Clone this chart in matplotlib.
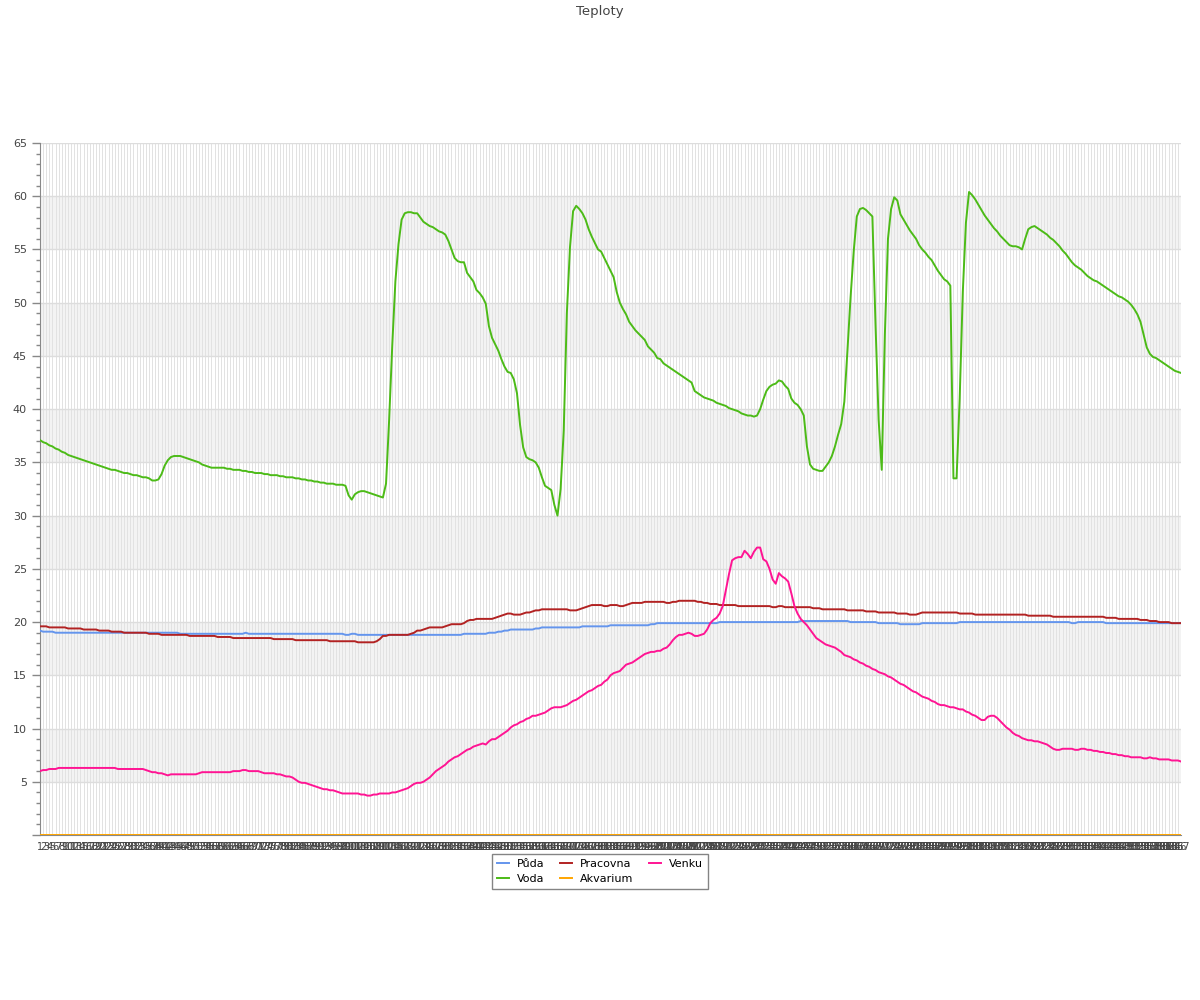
import matplotlib
matplotlib.use("Agg")
import matplotlib.pyplot as plt
from matplotlib.ticker import MultipleLocator

plt.rcParams['font.family'] = ['DejaVu Sans']

title = "Teploty"
labels = [str(i) for i in range(1, 368)]

puda = [
    19.2, 19.1, 19.1, 19.1, 19.1, 19.0, 19.0, 19.0, 19.0, 19.0,
    19.0, 19.0, 19.0, 19.0, 19.0, 19.0, 19.0, 19.0, 19.0, 19.0,
    19.0, 19.0, 19.0, 19.0, 19.0, 19.0, 19.0, 19.0, 19.0, 19.0,
    19.0, 19.0, 19.0, 19.0, 19.0, 19.0, 19.0, 19.0, 19.0, 19.0,
    19.0, 19.0, 19.0, 19.0, 19.0, 18.9, 18.9, 18.9, 18.9, 18.9,
    18.9, 18.9, 18.9, 18.9, 18.9, 18.9, 18.9, 18.9, 18.9, 18.9,
    18.9, 18.9, 18.9, 18.9, 18.9, 18.9, 19.0, 18.9, 18.9, 18.9,
    18.9, 18.9, 18.9, 18.9, 18.9, 18.9, 18.9, 18.9, 18.9, 18.9,
    18.9, 18.9, 18.9, 18.9, 18.9, 18.9, 18.9, 18.9, 18.9, 18.9,
    18.9, 18.9, 18.9, 18.9, 18.9, 18.9, 18.9, 18.9, 18.8, 18.8,
    18.9, 18.9, 18.8, 18.8, 18.8, 18.8, 18.8, 18.8, 18.8, 18.8,
    18.8, 18.8, 18.8, 18.8, 18.8, 18.8, 18.8, 18.8, 18.8, 18.8,
    18.8, 18.8, 18.8, 18.8, 18.8, 18.8, 18.8, 18.8, 18.8, 18.8,
    18.8, 18.8, 18.8, 18.8, 18.8, 18.8, 18.9, 18.9, 18.9, 18.9,
    18.9, 18.9, 18.9, 18.9, 19.0, 19.0, 19.0, 19.1, 19.1, 19.2,
    19.2, 19.3, 19.3, 19.3, 19.3, 19.3, 19.3, 19.3, 19.3, 19.4,
    19.4, 19.5, 19.5, 19.5, 19.5, 19.5, 19.5, 19.5, 19.5, 19.5,
    19.5, 19.5, 19.5, 19.5, 19.6, 19.6, 19.6, 19.6, 19.6, 19.6,
    19.6, 19.6, 19.6, 19.7, 19.7, 19.7, 19.7, 19.7, 19.7, 19.7,
    19.7, 19.7, 19.7, 19.7, 19.7, 19.7, 19.8, 19.8, 19.9, 19.9,
    19.9, 19.9, 19.9, 19.9, 19.9, 19.9, 19.9, 19.9, 19.9, 19.9,
    19.9, 19.9, 19.9, 19.9, 19.9, 19.9, 19.9, 19.9, 20.0, 20.0,
    20.0, 20.0, 20.0, 20.0, 20.0, 20.0, 20.0, 20.0, 20.0, 20.0,
    20.0, 20.0, 20.0, 20.0, 20.0, 20.0, 20.0, 20.0, 20.0, 20.0,
    20.0, 20.0, 20.0, 20.0, 20.1, 20.1, 20.1, 20.1, 20.1, 20.1,
    20.1, 20.1, 20.1, 20.1, 20.1, 20.1, 20.1, 20.1, 20.1, 20.1,
    20.0, 20.0, 20.0, 20.0, 20.0, 20.0, 20.0, 20.0, 20.0, 19.9,
    19.9, 19.9, 19.9, 19.9, 19.9, 19.9, 19.8, 19.8, 19.8, 19.8,
    19.8, 19.8, 19.8, 19.9, 19.9, 19.9, 19.9, 19.9, 19.9, 19.9,
    19.9, 19.9, 19.9, 19.9, 19.9, 20.0, 20.0, 20.0, 20.0, 20.0,
    20.0, 20.0, 20.0, 20.0, 20.0, 20.0, 20.0, 20.0, 20.0, 20.0,
    20.0, 20.0, 20.0, 20.0, 20.0, 20.0, 20.0, 20.0, 20.0, 20.0,
    20.0, 20.0, 20.0, 20.0, 20.0, 20.0, 20.0, 20.0, 20.0, 20.0,
    20.0, 19.9, 19.9, 20.0, 20.0, 20.0, 20.0, 20.0, 20.0, 20.0,
    20.0, 20.0, 19.9, 19.9, 19.9, 19.9, 19.9, 19.9, 19.9, 19.9,
    19.9, 19.9, 19.9, 19.9, 19.9, 19.9, 19.9, 19.9, 19.9, 19.9,
    19.9, 19.9, 19.9, 19.9, 19.9, 19.9, 19.9,
]

voda = [
    37.1, 36.9, 36.8, 36.6, 36.5, 36.3, 36.2, 36.0, 35.9, 35.7,
    35.6, 35.5, 35.4, 35.3, 35.2, 35.1, 35.0, 34.9, 34.8, 34.7,
    34.6, 34.5, 34.4, 34.3, 34.3, 34.2, 34.1, 34.0, 34.0, 33.9,
    33.8, 33.8, 33.7, 33.6, 33.6, 33.5, 33.3, 33.3, 33.4, 33.9,
    34.7, 35.2, 35.5, 35.6, 35.6, 35.6, 35.5, 35.4, 35.3, 35.2,
    35.1, 35.0, 34.8, 34.7, 34.6, 34.5, 34.5, 34.5, 34.5, 34.5,
    34.4, 34.4, 34.3, 34.3, 34.3, 34.2, 34.2, 34.1, 34.1, 34.0,
    34.0, 34.0, 33.9, 33.9, 33.8, 33.8, 33.8, 33.7, 33.7, 33.6,
    33.6, 33.6, 33.5, 33.5, 33.4, 33.4, 33.3, 33.3, 33.2, 33.2,
    33.1, 33.1, 33.0, 33.0, 33.0, 32.9, 32.9, 32.9, 32.8, 31.9,
    31.5, 32.0, 32.2, 32.3, 32.3, 32.2, 32.1, 32.0, 31.9, 31.8,
    31.7, 33.0, 39.0, 46.0, 52.0, 55.5, 57.8, 58.4, 58.5, 58.5,
    58.4, 58.4, 58.0, 57.6, 57.4, 57.2, 57.1, 56.9, 56.7, 56.6,
    56.4, 55.8, 55.0, 54.2, 53.9, 53.8, 53.8, 52.8, 52.4, 52.0,
    51.2, 50.9, 50.5, 49.9, 47.8, 46.7, 46.1, 45.5, 44.7, 44.0,
    43.5, 43.4, 42.8, 41.5, 38.5, 36.4, 35.5, 35.3, 35.2, 35.0,
    34.5, 33.6, 32.8, 32.6, 32.4, 31.0, 30.0, 32.5, 38.0, 49.0,
    55.2, 58.6, 59.1, 58.8, 58.4, 57.8, 56.9, 56.2, 55.6, 55.0,
    54.8, 54.2, 53.6, 53.0, 52.4, 51.0, 50.0, 49.4, 48.9, 48.2,
    47.8, 47.4, 47.1, 46.8, 46.5, 45.9, 45.6, 45.3, 44.8, 44.7,
    44.3, 44.1, 43.9, 43.7, 43.5, 43.3, 43.1, 42.9, 42.7, 42.5,
    41.7, 41.5, 41.3, 41.1, 41.0, 40.9, 40.8, 40.6, 40.5, 40.4,
    40.3, 40.1, 40.0, 39.9, 39.8, 39.6, 39.5, 39.4, 39.4, 39.3,
    39.4, 40.0, 40.9, 41.7, 42.1, 42.3, 42.4, 42.7, 42.6, 42.2,
    41.9, 41.0, 40.6, 40.4, 40.0, 39.4, 36.5, 34.8, 34.4, 34.3,
    34.2, 34.2, 34.6, 35.0, 35.6, 36.5, 37.6, 38.6, 40.7, 45.5,
    50.5, 54.8, 58.1, 58.8, 58.9, 58.7, 58.4, 58.1, 48.0, 39.0,
    34.3, 47.0, 56.0, 58.8, 59.9, 59.6, 58.3, 57.8, 57.3, 56.8,
    56.4, 56.0, 55.4, 55.0, 54.7, 54.3, 54.0, 53.5, 53.0, 52.6,
    52.2, 52.0, 51.6, 33.5, 33.5, 41.0, 51.0, 57.5, 60.4, 60.1,
    59.7, 59.2, 58.7, 58.2, 57.8, 57.4, 57.0, 56.7, 56.3, 56.0,
    55.7, 55.4, 55.3, 55.3, 55.2, 55.0, 56.0, 56.9, 57.1, 57.2,
    57.0, 56.8, 56.6, 56.4, 56.1, 55.9, 55.6, 55.3, 54.9, 54.6,
    54.2, 53.8, 53.5, 53.3, 53.1, 52.8, 52.5, 52.3, 52.1, 52.0,
    51.8, 51.6, 51.4, 51.2, 51.0, 50.8, 50.6, 50.5, 50.3, 50.1,
    49.8, 49.4, 48.9, 48.2, 47.0, 45.8, 45.2, 44.9, 44.8, 44.6,
    44.4, 44.2, 44.0, 43.8, 43.6, 43.5, 43.4,
]

pracovna = [
    19.6, 19.6, 19.6, 19.5, 19.5, 19.5, 19.5, 19.5, 19.5, 19.4,
    19.4, 19.4, 19.4, 19.4, 19.3, 19.3, 19.3, 19.3, 19.3, 19.2,
    19.2, 19.2, 19.2, 19.1, 19.1, 19.1, 19.1, 19.0, 19.0, 19.0,
    19.0, 19.0, 19.0, 19.0, 19.0, 18.9, 18.9, 18.9, 18.9, 18.8,
    18.8, 18.8, 18.8, 18.8, 18.8, 18.8, 18.8, 18.8, 18.7, 18.7,
    18.7, 18.7, 18.7, 18.7, 18.7, 18.7, 18.7, 18.6, 18.6, 18.6,
    18.6, 18.6, 18.5, 18.5, 18.5, 18.5, 18.5, 18.5, 18.5, 18.5,
    18.5, 18.5, 18.5, 18.5, 18.5, 18.4, 18.4, 18.4, 18.4, 18.4,
    18.4, 18.4, 18.3, 18.3, 18.3, 18.3, 18.3, 18.3, 18.3, 18.3,
    18.3, 18.3, 18.3, 18.2, 18.2, 18.2, 18.2, 18.2, 18.2, 18.2,
    18.2, 18.2, 18.1, 18.1, 18.1, 18.1, 18.1, 18.1, 18.2, 18.4,
    18.7, 18.7, 18.8, 18.8, 18.8, 18.8, 18.8, 18.8, 18.8, 18.9,
    19.0, 19.2, 19.2, 19.3, 19.4, 19.5, 19.5, 19.5, 19.5, 19.5,
    19.6, 19.7, 19.8, 19.8, 19.8, 19.8, 19.9, 20.1, 20.2, 20.2,
    20.3, 20.3, 20.3, 20.3, 20.3, 20.3, 20.4, 20.5, 20.6, 20.7,
    20.8, 20.8, 20.7, 20.7, 20.7, 20.8, 20.9, 20.9, 21.0, 21.1,
    21.1, 21.2, 21.2, 21.2, 21.2, 21.2, 21.2, 21.2, 21.2, 21.2,
    21.1, 21.1, 21.1, 21.2, 21.3, 21.4, 21.5, 21.6, 21.6, 21.6,
    21.6, 21.5, 21.5, 21.6, 21.6, 21.6, 21.5, 21.5, 21.6, 21.7,
    21.8, 21.8, 21.8, 21.8, 21.9, 21.9, 21.9, 21.9, 21.9, 21.9,
    21.9, 21.8, 21.8, 21.9, 21.9, 22.0, 22.0, 22.0, 22.0, 22.0,
    22.0, 21.9, 21.9, 21.8, 21.8, 21.7, 21.7, 21.7, 21.6, 21.6,
    21.6, 21.6, 21.6, 21.6, 21.5, 21.5, 21.5, 21.5, 21.5, 21.5,
    21.5, 21.5, 21.5, 21.5, 21.5, 21.4, 21.4, 21.5, 21.5, 21.4,
    21.4, 21.4, 21.4, 21.4, 21.4, 21.4, 21.4, 21.4, 21.3, 21.3,
    21.3, 21.2, 21.2, 21.2, 21.2, 21.2, 21.2, 21.2, 21.2, 21.1,
    21.1, 21.1, 21.1, 21.1, 21.1, 21.0, 21.0, 21.0, 21.0, 20.9,
    20.9, 20.9, 20.9, 20.9, 20.9, 20.8, 20.8, 20.8, 20.8, 20.7,
    20.7, 20.7, 20.8, 20.9, 20.9, 20.9, 20.9, 20.9, 20.9, 20.9,
    20.9, 20.9, 20.9, 20.9, 20.9, 20.8, 20.8, 20.8, 20.8, 20.8,
    20.7, 20.7, 20.7, 20.7, 20.7, 20.7, 20.7, 20.7, 20.7, 20.7,
    20.7, 20.7, 20.7, 20.7, 20.7, 20.7, 20.7, 20.6, 20.6, 20.6,
    20.6, 20.6, 20.6, 20.6, 20.6, 20.5, 20.5, 20.5, 20.5, 20.5,
    20.5, 20.5, 20.5, 20.5, 20.5, 20.5, 20.5, 20.5, 20.5, 20.5,
    20.5, 20.5, 20.4, 20.4, 20.4, 20.4, 20.3, 20.3, 20.3, 20.3,
    20.3, 20.3, 20.3, 20.2, 20.2, 20.2, 20.1, 20.1, 20.1, 20.0,
    20.0, 20.0, 20.0, 19.9, 19.9, 19.9, 19.9,
]

akvarium = [0.0] * len(labels)

venku = [
    6.0, 6.1, 6.1, 6.2, 6.2, 6.2, 6.3, 6.3, 6.3, 6.3,
    6.3, 6.3, 6.3, 6.3, 6.3, 6.3, 6.3, 6.3, 6.3, 6.3,
    6.3, 6.3, 6.3, 6.3, 6.3, 6.2, 6.2, 6.2, 6.2, 6.2,
    6.2, 6.2, 6.2, 6.2, 6.1, 6.0, 5.9, 5.9, 5.8, 5.8,
    5.7, 5.6, 5.7, 5.7, 5.7, 5.7, 5.7, 5.7, 5.7, 5.7,
    5.7, 5.8, 5.9, 5.9, 5.9, 5.9, 5.9, 5.9, 5.9, 5.9,
    5.9, 5.9, 6.0, 6.0, 6.0, 6.1, 6.1, 6.0, 6.0, 6.0,
    6.0, 5.9, 5.8, 5.8, 5.8, 5.8, 5.7, 5.7, 5.6, 5.5,
    5.5, 5.4, 5.2, 5.0, 4.9, 4.9, 4.8, 4.7, 4.6, 4.5,
    4.4, 4.3, 4.3, 4.2, 4.2, 4.1, 4.0, 3.9, 3.9, 3.9,
    3.9, 3.9, 3.9, 3.8, 3.8, 3.7, 3.7, 3.8, 3.8, 3.9,
    3.9, 3.9, 3.9, 4.0, 4.0, 4.1, 4.2, 4.3, 4.4, 4.6,
    4.8, 4.9, 4.9, 5.0, 5.2, 5.4, 5.7, 6.0, 6.2, 6.4,
    6.6, 6.9, 7.1, 7.3, 7.4, 7.6, 7.8, 8.0, 8.1, 8.3,
    8.4, 8.5, 8.6, 8.5, 8.8, 9.0, 9.0, 9.2, 9.4, 9.6,
    9.8, 10.1, 10.3, 10.4, 10.6, 10.7, 10.9, 11.0, 11.2, 11.2,
    11.3, 11.4, 11.5, 11.7, 11.9, 12.0, 12.0, 12.0, 12.1, 12.2,
    12.4, 12.6, 12.7, 12.9, 13.1, 13.3, 13.5, 13.6, 13.8, 14.0,
    14.1, 14.4, 14.6, 15.0, 15.2, 15.3, 15.4, 15.7, 16.0, 16.1,
    16.2, 16.4, 16.6, 16.8, 17.0, 17.1, 17.2, 17.2, 17.3, 17.3,
    17.5, 17.6, 17.9, 18.3, 18.6, 18.8, 18.8, 18.9, 19.0, 18.9,
    18.7, 18.7, 18.8, 18.9, 19.3, 19.9, 20.2, 20.4, 20.8, 21.5,
    23.0, 24.5, 25.8, 26.0, 26.1, 26.1, 26.7, 26.4, 26.0, 26.6,
    27.0, 27.0, 25.9, 25.7, 25.0, 24.0, 23.6, 24.6, 24.3, 24.1,
    23.8, 22.7, 21.5, 20.8, 20.3, 20.0, 19.7, 19.3, 18.9, 18.5,
    18.3, 18.1, 17.9, 17.8, 17.7, 17.6, 17.4, 17.2, 16.9, 16.8,
    16.7, 16.5, 16.4, 16.2, 16.1, 15.9, 15.8, 15.6, 15.5, 15.3,
    15.2, 15.1, 14.9, 14.8, 14.6, 14.4, 14.2, 14.1, 13.9, 13.7,
    13.5, 13.4, 13.2, 13.0, 12.9, 12.8, 12.6, 12.5, 12.3, 12.2,
    12.2, 12.1, 12.0, 12.0, 11.9, 11.8, 11.8, 11.6, 11.5, 11.3,
    11.2, 11.0, 10.8, 10.8, 11.1, 11.2, 11.2, 11.0, 10.7, 10.4,
    10.1, 9.9, 9.6, 9.4, 9.3, 9.1, 9.0, 8.9, 8.9, 8.8,
    8.8, 8.7, 8.6, 8.5, 8.3, 8.1, 8.0, 8.0, 8.1, 8.1,
    8.1, 8.1, 8.0, 8.0, 8.1, 8.1, 8.0, 8.0, 7.9, 7.9,
    7.8, 7.8, 7.7, 7.7, 7.6, 7.6, 7.5, 7.5, 7.4, 7.4,
    7.3, 7.3, 7.3, 7.3, 7.2, 7.2, 7.3, 7.2, 7.2, 7.1,
    7.1, 7.1, 7.1, 7.0, 7.0, 7.0, 6.9,
]

series = [
    ("Půda", puda, "#6495ED"),
    ("Voda", voda, "#4CBB17"),
    ("Pracovna", pracovna, "#B22222"),
    ("Akvarium", akvarium, "#FFA500"),
    ("Venku", venku, "#FF1493"),
]

for name, vals, _ in series:
    assert len(vals) == len(labels), (name, len(vals))

fig = plt.figure(figsize=(12, 10), dpi=100)
ax = fig.add_axes([0.0333, 0.165, 0.9509, 0.692])

x = list(range(len(labels)))

# alternating bands
for lo in range(5, 60, 10):
    ax.axhspan(lo, lo + 5, color="#f3f3f3", zorder=0, lw=0)

for name, vals, col in series:
    ax.plot(x, vals, color=col, lw=1.4, label=name, zorder=3)

ax.set_xlim(0, len(labels) - 1)
ax.set_ylim(0, 65)

ax.set_xticks(x)
ax.set_xticklabels(labels, fontsize=7, color="#444444")
ax.tick_params(axis="x", length=0, pad=5)

ax.yaxis.set_major_locator(MultipleLocator(5))
ax.yaxis.set_minor_locator(MultipleLocator(1))
ax.set_yticks(range(0, 66, 5))
ax.set_yticklabels([""] + [str(v) for v in range(5, 66, 5)], fontsize=8, color="#444444")
ax.tick_params(axis="y", which="major", length=6, color="#888888", width=1)
ax.tick_params(axis="y", which="minor", length=3, color="#888888", width=1)

ax.grid(axis="x", color="#e2e2e2", lw=0.7, zorder=1)
ax.grid(axis="y", which="major", color="#dddddd", lw=1, zorder=1)
ax.set_axisbelow(True)

for s in ("top", "right"):
    ax.spines[s].set_visible(False)
ax.spines["left"].set_color("#888888")
ax.spines["bottom"].set_color("#888888")

fig.text(0.5, 0.995, title, ha="center", va="top", fontsize=9.5, color="#444444")

leg = fig.legend(loc="upper center", bbox_to_anchor=(0.5, 0.152), ncol=3,
                 fontsize=8, handlelength=1.1, columnspacing=1.4, handletextpad=0.7,
                 borderpad=0.45, labelspacing=0.45, frameon=True, fancybox=False)
leg.get_frame().set_edgecolor("#666666")
leg.get_frame().set_linewidth(1)

fig.savefig("out.png", dpi=100)
